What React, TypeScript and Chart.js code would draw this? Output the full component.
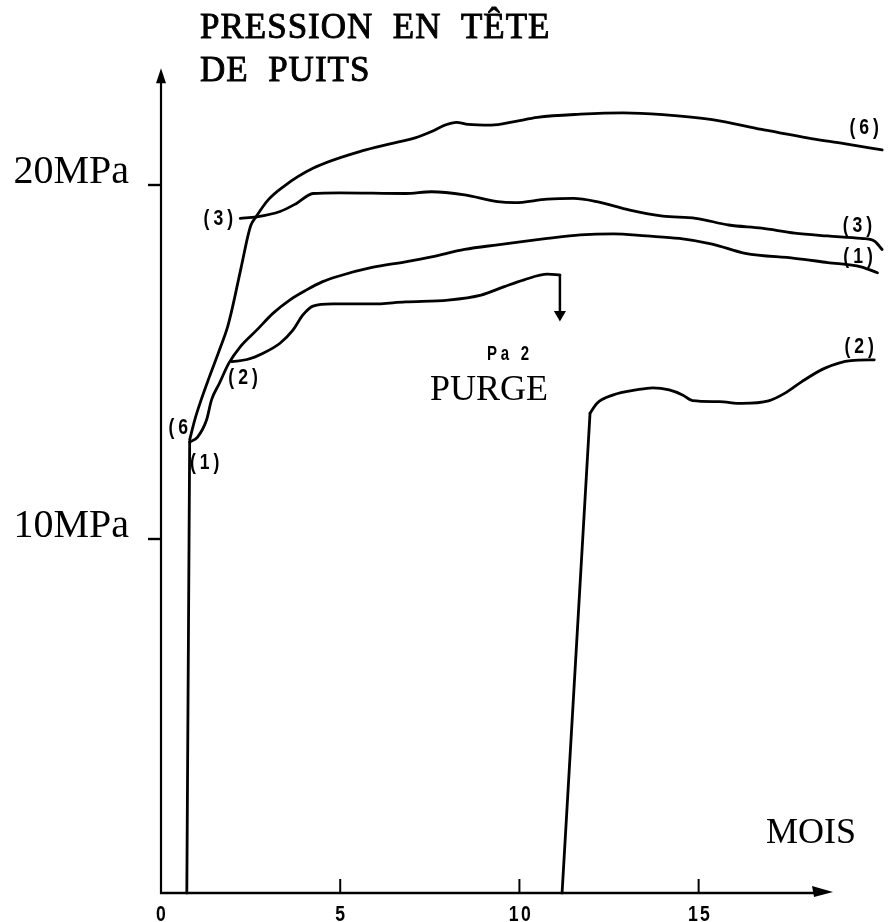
import { useEffect, useRef } from "react";
import { Chart, registerables } from "chart.js";

Chart.register(...registerables);

// ---- data (months, MPa) ----
// well 1: vertical start-up, then the curve
const well1StartMonths = [0.72, 0.8];
const well1StartMpa = [0, 12.74];
const well1Months = [0.8, 1.02, 1.27, 1.41, 1.63, 1.89, 2.21, 2.67, 3.13, 3.59, 4.05, 4.51, 4.97, 5.89, 6.82, 7.55, 8.47, 9.39, 10.78, 11.7, 12.62, 13.54, 14.46, 15.38, 16.3, 17.68, 18.6, 19.53, 19.99];
const well1Mpa = [12.74, 12.88, 13.36, 13.93, 14.4, 14.96, 15.43, 15.9, 16.38, 16.75, 17.03, 17.27, 17.43, 17.67, 17.83, 17.97, 18.18, 18.31, 18.49, 18.59, 18.62, 18.56, 18.49, 18.33, 18.07, 17.93, 17.81, 17.69, 17.52];

const well6Months = [0.8, 0.94, 1.12, 1.35, 1.63, 1.86, 2.0, 2.14, 2.28, 2.42, 2.51, 2.65, 2.99, 3.41, 4.24, 5.71, 6.63, 7.09, 7.55, 7.92, 8.24, 8.57, 9.21, 9.86, 10.5, 11.7, 12.9, 14.0, 15.38, 16.76, 18.14, 19.06, 20.12];
const well6Mpa = [12.8, 13.36, 13.93, 14.58, 15.34, 16.0, 16.57, 17.22, 17.88, 18.54, 18.87, 19.1, 19.58, 19.95, 20.47, 20.99, 21.22, 21.33, 21.51, 21.69, 21.77, 21.71, 21.69, 21.79, 21.91, 22.0, 22.04, 21.99, 21.85, 21.57, 21.31, 21.17, 20.99];

const well3Months = [2.21, 2.67, 3.32, 3.78, 4.24, 4.97, 6.82, 7.55, 8.47, 9.39, 9.86, 10.78, 11.51, 12.16, 13.08, 14.0, 14.92, 15.84, 16.76, 17.68, 18.6, 19.53, 19.9, 20.12];
const well3Mpa = [19.06, 19.1, 19.25, 19.48, 19.76, 19.78, 19.76, 19.81, 19.72, 19.53, 19.5, 19.6, 19.62, 19.53, 19.29, 19.12, 19.06, 18.87, 18.78, 18.64, 18.56, 18.49, 18.42, 18.18];

const well2BeforeMonths = [1.98, 2.4, 2.85, 3.32, 3.68, 3.96, 4.24, 4.79, 5.89, 6.82, 8.01, 8.93, 9.58, 10.13, 10.78, 11.13];
const well2BeforeMpa = [15.01, 15.07, 15.25, 15.53, 15.9, 16.33, 16.58, 16.64, 16.64, 16.7, 16.75, 16.89, 17.13, 17.32, 17.48, 17.46];

const purgeMonths = [11.13, 11.13];
const purgeMpa = [17.46, 16.34];

const well2RestartMonths = [11.19, 11.97];
const well2RestartMpa = [0, 13.55];
const well2AfterMonths = [11.97, 12.16, 12.62, 13.26, 13.72, 14.18, 14.55, 14.83, 15.57, 16.21, 16.95, 17.41, 17.87, 18.51, 19.25, 19.9];
const well2AfterMpa = [13.55, 13.83, 14.07, 14.21, 14.27, 14.21, 14.07, 13.91, 13.88, 13.83, 13.9, 14.12, 14.44, 14.82, 15.04, 15.06];

// ---- axes / ticks ----
const xTickValues = [0, 5, 10, 15];
const xTickLabels = ["0", "5", "10", "15"];
const yTickValues = [10, 20];
const yTickLabels = ["10MPa", "20MPa"];
const xArrowEnd = 18.75;
const yArrowEnd = 23.3;

// ---- curve labels ----
const curveLabelTexts = ["(6)", "(3)", "(1)", "(2)", "(3)", "(2)", "(6", "(1)"];
const curveLabelMonths = [19.62, 19.43, 19.45, 19.48, 1.6, 2.29, 0.48, 1.22];
const curveLabelMpa = [21.61, 18.84, 17.97, 15.42, 19.04, 14.55, 13.14, 12.15];

const SERIF = '"Liberation Serif", "Times New Roman", serif';
const SANS = '"Liberation Sans", Arial, sans-serif';

const toPoints = (xs: number[], ys: number[]) => xs.map((x, i) => ({ x, y: ys[i] }));

const lineDs = (label: string, xs: number[], ys: number[], smooth = true) => ({
  label,
  data: toPoints(xs, ys),
  borderColor: "#000",
  borderWidth: 2.8,
  pointRadius: 0,
  fill: false,
  cubicInterpolationMode: smooth ? ("monotone" as const) : ("default" as const),
  tension: 0,
  clip: false as const,
  borderCapStyle: "round" as const,
});

function condensed(ctx: any, text: string, x: number, y: number, sx: number, align: string) {
  ctx.save();
  ctx.translate(x, y);
  ctx.scale(sx, 1);
  ctx.textAlign = align;
  ctx.fillText(text, 0, 0);
  ctx.restore();
}

const drawingPlugin = {
  id: "handDrawing",
  afterDatasetsDraw(chart: any) {
    const { ctx, scales } = chart;
    const xs = scales.x;
    const ys = scales.y;
    const x0 = xs.getPixelForValue(0);
    const y0 = ys.getPixelForValue(0);
    const xEnd = xs.getPixelForValue(xArrowEnd);
    const yEnd = ys.getPixelForValue(yArrowEnd);
    ctx.save();
    ctx.strokeStyle = "#000";
    ctx.fillStyle = "#000";
    ctx.lineCap = "butt";

    // y axis
    ctx.lineWidth = 2.2;
    ctx.beginPath();
    ctx.moveTo(x0, y0 + 1);
    ctx.lineTo(x0, yEnd + 8);
    ctx.stroke();
    ctx.beginPath();
    ctx.moveTo(x0, yEnd);
    ctx.lineTo(x0 - 5, yEnd + 15);
    ctx.lineTo(x0 + 5, yEnd + 15);
    ctx.closePath();
    ctx.fill();

    // x axis
    ctx.lineWidth = 2.6;
    ctx.beginPath();
    ctx.moveTo(x0 - 1, y0);
    ctx.lineTo(xEnd - 10, y0);
    ctx.stroke();
    ctx.beginPath();
    ctx.moveTo(xEnd, y0 - 1);
    ctx.lineTo(xEnd - 21, y0 - 7);
    ctx.lineTo(xEnd - 19, y0 + 4);
    ctx.closePath();
    ctx.fill();

    // x ticks + labels
    ctx.lineWidth = 2;
    ctx.font = `bold 22px ${SANS}`;
    ctx.textBaseline = "alphabetic";
    xTickValues.forEach((v, i) => {
      const px = xs.getPixelForValue(v);
      if (v !== 0) {
        ctx.beginPath();
        ctx.moveTo(px, y0);
        ctx.lineTo(px, y0 - 14);
        ctx.stroke();
      }
      const multi = xTickLabels[i].length > 1;
      (ctx as any).letterSpacing = multi ? "3px" : "0px";
      condensed(ctx, xTickLabels[i], px + (multi ? 1.5 : 0), y0 + 28, 0.8, "center");
    });
    (ctx as any).letterSpacing = "0px";

    // y ticks + labels
    ctx.lineWidth = 2.4;
    ctx.font = `40px ${SERIF}`;
    ctx.textAlign = "right";
    yTickValues.forEach((v, i) => {
      const py = ys.getPixelForValue(v);
      ctx.beginPath();
      ctx.moveTo(x0 - 13, py);
      ctx.lineTo(x0, py);
      ctx.stroke();
      ctx.fillText(yTickLabels[i], x0 - 32, py - 2);
    });

    // curve labels
    ctx.font = `bold 22px ${SANS}`;
    ctx.textBaseline = "middle";
    (ctx as any).letterSpacing = "5px";
    curveLabelTexts.forEach((t, i) => {
      condensed(ctx, t, xs.getPixelForValue(curveLabelMonths[i]) + 2, ys.getPixelForValue(curveLabelMpa[i]), 0.8, "center");
    });

    // Pa 2
    (ctx as any).letterSpacing = "5px";
    ctx.font = `bold 20px ${SANS}`;
    ctx.textBaseline = "alphabetic";
    condensed(ctx, "Pa 2", 487, 360, 0.75, "left");

    // titles
    ctx.lineWidth = 0.9;
    (ctx as any).letterSpacing = "1px";
    ctx.font = `35px ${SERIF}`;
    ctx.textAlign = "left";
    ctx.fillText("PRESSION  EN  TÊTE", 200, 38);
    ctx.strokeText("PRESSION  EN  TÊTE", 200, 38);
    ctx.fillText("DE  PUITS", 200, 81);
    ctx.strokeText("DE  PUITS", 200, 81);
    (ctx as any).letterSpacing = "0px";
    ctx.font = `36px ${SERIF}`;
    ctx.fillText("PURGE", 430, 400);
    ctx.fillText("MOIS", 766, 843);
    ctx.restore();
  },
};

export default function App() {
  const ref = useRef<HTMLCanvasElement | null>(null);
  useEffect(() => {
    if (!ref.current) return;
    const chart = new Chart(ref.current, {
      type: "line",
      data: {
        datasets: [
          lineDs("Puits 1 (démarrage)", well1StartMonths, well1StartMpa, false),
          lineDs("Puits 1", well1Months, well1Mpa),
          lineDs("Puits 6", well6Months, well6Mpa),
          lineDs("Puits 3", well3Months, well3Mpa),
          lineDs("Puits 2", well2BeforeMonths, well2BeforeMpa),
          {
            label: "Purge",
            data: toPoints(purgeMonths, purgeMpa),
            borderColor: "#000",
            backgroundColor: "#000",
            borderWidth: 2.5,
            tension: 0,
            pointStyle: "triangle",
            rotation: 180,
            pointRadius: [0, 7],
            pointBorderWidth: 0,
            fill: false,
            clip: false,
          } as any,
          lineDs("Puits 2 (redémarrage)", well2RestartMonths, well2RestartMpa, false),
          lineDs("Puits 2 (après purge)", well2AfterMonths, well2AfterMpa),
        ],
      },
      options: {
        responsive: false,
        animation: false,
        layout: { padding: { left: 161, right: 0, top: 8, bottom: 29 } },
        plugins: { legend: { display: false }, tooltip: { enabled: false }, title: { display: false } },
        scales: {
          x: { type: "linear", min: 0, max: 20.2, display: false },
          y: { type: "linear", min: 0, max: 25, display: false },
        },
        events: [],
      },
      plugins: [drawingPlugin],
    });
    return () => chart.destroy();
  }, []);
  return (
    <div style={{ position: "absolute", left: 0, top: 0, width: 892, height: 922, background: "#fff" }}>
      <canvas ref={ref} width={892} height={922} style={{ display: "block" }} />
    </div>
  );
}
